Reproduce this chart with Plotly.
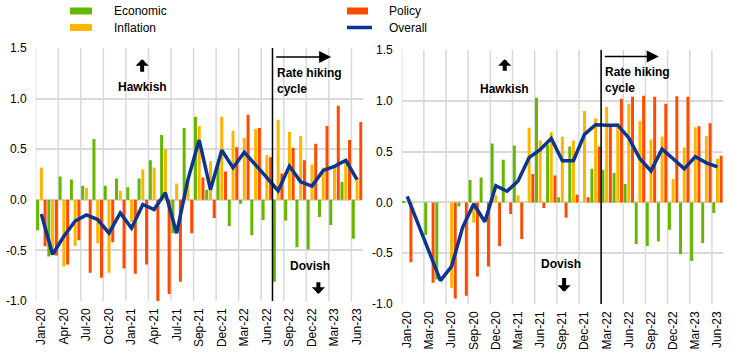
import plotly.graph_objects as go

# ---------------- data ----------------
# Left panel (ECB meetings)
ecb_meetings = ["Jan-20", "Mar-20", "Apr-20", "Jun-20", "Jul-20", "Sep-20", "Oct-20", "Dec-20",
                "Jan-21", "Mar-21", "Apr-21", "Jun-21", "Jul-21", "Jul-21", "Sep-21", "Oct-21", "Dec-21",
                "Feb-22", "Mar-22", "Apr-22", "Jun-22", "Jul-22", "Sep-22", "Oct-22", "Dec-22",
                "Feb-23", "Mar-23", "May-23", "Jun-23"]
ecb_economic = [-0.30, -0.56, 0.23, 0.20, 0.14, 0.60, 0.14, 0.21, 0.125, 0.21, 0.39, 0.64, -0.33, 0.71,
                0.82, 0.10, 0.36, -0.26, -0.04, -0.35, -0.20, -0.81, -0.205, -0.47, -0.49, -0.17,
                -0.25, 0.175, -0.385]
ecb_inflation = [0.32, -0.52, -0.66, -0.46, 0.12, -0.43, -0.72, 0.09, -0.22, 0.30, 0.32, 0.50, 0.16, 0.20,
                 0.73, 0.38, 0.82, 0.68, 0.61, 0.70, 0.44, 0.79, 0.67, 0.63, 0.35, 0.32, 0.32, 0.40, 0.215]
ecb_policy = [-0.46, -0.55, -0.64, -0.40, -0.72, -0.77, -0.42, -0.68, -0.73, -0.64, -1.00, -0.93, -0.81,
              -0.33, 0.22, -0.18, 0.28, 0.52, 0.84, 0.71, 0.42, 0.26, 0.515, 0.39, 0.555, 0.73, 0.93,
              0.59, 0.77]
ecb_overall = [-0.14, -0.54, -0.36, -0.21, -0.15, -0.195, -0.33, -0.13, -0.28, -0.046, -0.096, 0.07,
               -0.33, 0.20, 0.59, 0.10, 0.49, 0.317, 0.47, 0.35, 0.22, 0.09, 0.333, 0.178, 0.135, 0.29,
               0.33, 0.39, 0.20]
ecb_hike_start = 21  # Jul-22

# Right panel (Fed meetings)
fed_meetings = ["Jan-20", "Mar-20", "Mar-20", "Apr-20", "Jun-20", "Jul-20", "Sep-20", "Nov-20", "Dec-20",
                "Jan-21", "Mar-21", "Apr-21", "Jun-21", "Jul-21", "Sep-21", "Nov-21", "Dec-21",
                "Jan-22", "Mar-22", "May-22", "Jun-22", "Jul-22", "Sep-22", "Nov-22", "Dec-22",
                "Feb-23", "Mar-23", "May-23", "Jun-23"]
fed_economic = [0.015, 0.0, -0.32, -0.76, 0.0, -0.04, 0.22, 0.245, 0.58, 0.42, 0.56, 0.0, 1.03, 0.57,
                0.05, 0.55, 0.0, 0.33, 0.32, 0.29, 0.18, -0.41, -0.43, -0.385, -0.27, -0.51, -0.575,
                -0.40, -0.105]
fed_inflation = [0.0, 0.0, 0.0, 0.0, -0.84, 0.0, -0.20, 0.0, 0.07, 0.0, 0.07, 0.735, 0.61, 0.69,
                 0.645, 0.61, 0.90, 0.825, 0.94, 0.78, 0.97, 0.80, 0.62, 0.645, 0.23, 0.54, 0.74,
                 0.65, 0.43]
fed_policy = [-0.59, 0.0, -0.79, 0.0, -0.945, -0.92, -0.73, -0.63, -0.43, -0.115, -0.36, 0.28, -0.055,
              0.265, -0.15, 0.075, 0.05, 0.55, 0.77, 1.02, 1.04, 1.05, 1.04, 0.97, 1.045, 1.04, 0.75,
              0.78, 0.46]
fed_overall = [0.06, -0.22, -0.50, -0.77, -0.63, -0.245, -0.016, -0.19, 0.165, 0.11, 0.21, 0.44, 0.52,
               0.63, 0.41, 0.41, 0.67, 0.765, 0.76, 0.76, 0.635, 0.43, 0.31, 0.525, 0.43, 0.33, 0.45,
               0.39, 0.35]
fed_hike_start = 18  # Mar-22

y_ticks = [-1.0, -0.5, 0.0, 0.5, 1.0, 1.5]

# ---------------- style ----------------
GREEN = "#65B800"
YELLOW = "#FFB400"
RED = "#FF4B00"
BLUE = "#0B3592"
GRID = "#D9D9D9"
FONT = "Liberation Sans, Arial, sans-serif"

W, H = 743, 358


def px(x):
    return x / W


def py(y):
    return 1 - y / H


fig = go.Figure()


def add_panel(xa, ya, meetings, eco, inf, pol, ovr):
    idx = list(range(len(meetings)))
    for vals, col, name in ((eco, GREEN, "Economic"), (inf, YELLOW, "Inflation"), (pol, RED, "Policy")):
        fig.add_trace(go.Bar(x=idx, y=vals, name=name, marker=dict(color=col, line=dict(width=0)),
                             xaxis=xa, yaxis=ya, showlegend=False))
    fig.add_trace(go.Scatter(x=idx, y=ovr, mode="lines", name="Overall",
                             line=dict(color=BLUE, width=3.5), xaxis=xa, yaxis=ya, showlegend=False))
    # vertical gridlines between every second category
    for i in range(0, len(meetings), 2):
        fig.add_shape(type="line", xref=xa, yref=ya + " domain", x0=i - 0.5, x1=i - 0.5, y0=0, y1=1,
                      line=dict(color=GRID, width=1.5), layer="below")


add_panel("x", "y", ecb_meetings, ecb_economic, ecb_inflation, ecb_policy, ecb_overall)
add_panel("x2", "y2", fed_meetings, fed_economic, fed_inflation, fed_policy, fed_overall)


def xaxis_cfg(meetings, domain, anchor):
    n = len(meetings)
    return dict(domain=domain, anchor=anchor, range=[-0.5, n - 0.5], automargin=False,
                tickmode="array", tickvals=list(range(0, n, 2)),
                ticktext=[meetings[i] for i in range(0, n, 2)],
                tickangle=-90, ticks="", showgrid=False, zeroline=False, showline=False,
                ticklabelstandoff=4,
                tickfont=dict(size=12, color="#000000", family=FONT))


def yaxis_cfg(domain, anchor):
    return dict(domain=domain, anchor=anchor, range=[-1.0, 1.5], tickmode="array", automargin=False,
                tickvals=y_ticks, ticktext=["%.1f" % v for v in y_ticks],
                showgrid=True, gridcolor=GRID, gridwidth=1.5, zeroline=False, showline=False,
                ticks="", ticklabelstandoff=8,
                tickfont=dict(size=12, color="#000000", family=FONT))


fig.update_layout(
    width=W, height=H, margin=dict(l=0, r=0, t=0, b=0, autoexpand=False),
    paper_bgcolor="white", plot_bgcolor="white",
    barmode="group", bargap=0.0, bargroupgap=0.2,
    font=dict(family=FONT, size=12, color="#000000"),
    showlegend=False,
    xaxis=xaxis_cfg(ecb_meetings, [px(35.7), px(362.7)], "y"),
    yaxis=yaxis_cfg([py(301), py(48)], "x"),
    xaxis2=xaxis_cfg(fed_meetings, [px(401.7), px(723)], "y2"),
    yaxis2=yaxis_cfg([py(304), py(50)], "x2"),
)


# ---------- rate hiking cycle markers and labels ----------
def panel_annotations(xa, ya, hike, hawk_x, hawk_y, arrow_up, dov_x, dov_y, arrow_dn, rate_y,
                      hike_arrow_y, hike_arrow_len):
    fig.add_shape(type="line", xref=xa, yref=ya + " domain", x0=hike - 0.5, x1=hike - 0.5, y0=0, y1=1,
                  line=dict(color="#000000", width=1.5))
    fig.add_annotation(xref=xa, yref=ya, x=hawk_x, y=hawk_y, text="<b>Hawkish</b>", showarrow=False,
                       font=dict(size=12, family=FONT))
    fig.add_annotation(xref=xa, yref=ya, x=hawk_x, y=arrow_up[1], ax=hawk_x, ay=arrow_up[0],
                       axref=xa, ayref=ya, text="", showarrow=True, arrowhead=1, arrowsize=0.55,
                       arrowwidth=4, arrowcolor="#000000")
    fig.add_annotation(xref=xa, yref=ya, x=dov_x, y=dov_y, text="<b>Dovish</b>", showarrow=False,
                       font=dict(size=12, family=FONT))
    fig.add_annotation(xref=xa, yref=ya, x=arrow_dn[0], y=arrow_dn[2], ax=arrow_dn[0], ay=arrow_dn[1],
                       axref=xa, ayref=ya, text="", showarrow=True, arrowhead=1, arrowsize=0.55,
                       arrowwidth=4, arrowcolor="#000000")
    fig.add_annotation(xref=xa, yref=ya, x=hike - 0.3, y=rate_y, text="<b>Rate hiking<br>cycle</b>",
                       showarrow=False, xanchor="left", align="left", font=dict(size=12, family=FONT))
    fig.add_annotation(xref=xa, yref=ya, x=hike - 0.3 + hike_arrow_len, y=hike_arrow_y,
                       ax=hike - 0.3, ay=hike_arrow_y, axref=xa, ayref=ya, text="", showarrow=True,
                       arrowhead=2, arrowsize=1.6, arrowwidth=1.5, arrowcolor="#000000")


panel_annotations("x", "y", ecb_hike_start, 8.94, 1.115, (1.25, 1.39), 23.86, -0.65, (24.57, -0.80, -0.93),
                  1.174, 1.412, 5.0)
panel_annotations("x2", "y2", fed_hike_start, 8.8, 1.12, (1.28, 1.41), 13.84, -0.61, (14.16, -0.73, -0.88),
                  1.20, 1.435, 5.0)


# ---------- legend (manual) ----------
def legend_item(x0, x1, tx, yc, color, label, kind):
    if kind == "bar":
        fig.add_shape(type="rect", xref="paper", yref="paper", x0=px(x0), x1=px(x1),
                      y0=py(yc + 3.5), y1=py(yc - 3.5), line=dict(width=0), fillcolor=color)
    else:
        fig.add_shape(type="line", xref="paper", yref="paper", x0=px(x0), x1=px(x1),
                      y0=py(yc), y1=py(yc), line=dict(color=color, width=3.5))
    fig.add_annotation(xref="paper", yref="paper", x=px(tx), y=py(yc), text=label,
                       showarrow=False, xanchor="left", yanchor="middle", font=dict(size=12, family=FONT))


legend_item(70, 92, 112, 11, GREEN, "Economic", "bar")
legend_item(70, 92, 112, 27.5, YELLOW, "Inflation", "bar")
legend_item(347, 368, 387, 11, RED, "Policy", "bar")
legend_item(347, 372, 387, 27.5, BLUE, "Overall", "line")

# remove the default page margin so the figure fills the 743x358 window exactly
fig.write_html("out.html", config={"displayModeBar": False},
               post_script="document.body.style.margin='0';document.body.style.overflow='hidden';")
